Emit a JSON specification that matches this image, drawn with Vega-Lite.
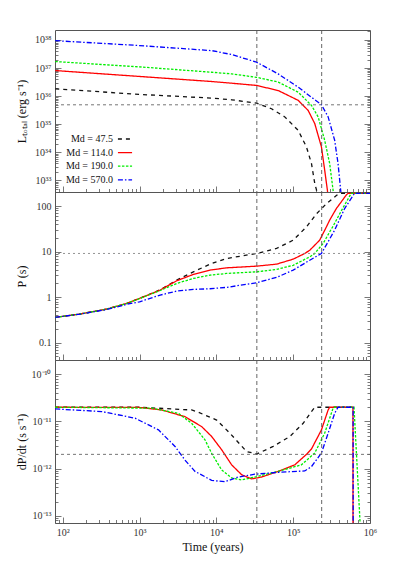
{
  "$schema": "https://vega.github.io/schema/vega-lite/v6.json",
  "padding": {"left": 14, "top": 29, "right": 5, "bottom": 5},
  "spacing": 0,
  "bounds": "flush",
  "background": "white",
  "datasets": {
    "L": [
      {"m": "47.5", "t": 80, "v": 1.82e36}, {"m": "47.5", "t": 1000, "v": 1.15e36}, {"m": "47.5", "t": 8690, "v": 8.51e35}, {"m": "47.5", "t": 15850, "v": 7.4e35}, {"m": "47.5", "t": 33340, "v": 5.62e35}, {"m": "47.5", "t": 52240, "v": 3.55e35}, {"m": "47.5", "t": 77800, "v": 1.82e35}, {"m": "47.5", "t": 116100, "v": 6.03e34}, {"m": "47.5", "t": 148900, "v": 1.55e34}, {"m": "47.5", "t": 173000, "v": 3.98e33}, {"m": "47.5", "t": 191000, "v": 7.76e32}, {"m": "47.5", "t": 201000, "v": 4.57e32}, {"m": "47.5", "t": 209000, "v": 1.6e32},
      {"m": "114.0", "t": 80, "v": 8.13e36}, {"m": "114.0", "t": 1000, "v": 5.01e36}, {"m": "114.0", "t": 8690, "v": 3.31e36}, {"m": "114.0", "t": 15850, "v": 2.88e36}, {"m": "114.0", "t": 33340, "v": 2.4e36}, {"m": "114.0", "t": 63830, "v": 1.58e36}, {"m": "114.0", "t": 116100, "v": 7.08e35}, {"m": "114.0", "t": 156700, "v": 3.09e35}, {"m": "114.0", "t": 191000, "v": 1.05e35}, {"m": "114.0", "t": 233300, "v": 1.55e34}, {"m": "114.0", "t": 257000, "v": 2.34e33}, {"m": "114.0", "t": 278600, "v": 4.57e32}, {"m": "114.0", "t": 290000, "v": 1.5e32},
      {"m": "190.0", "t": 80, "v": 1.7e37}, {"m": "190.0", "t": 1000, "v": 1.1e37}, {"m": "190.0", "t": 8690, "v": 7.08e36}, {"m": "190.0", "t": 15850, "v": 6.17e36}, {"m": "190.0", "t": 33340, "v": 4.68e36}, {"m": "190.0", "t": 63830, "v": 3.16e36}, {"m": "190.0", "t": 116100, "v": 1.38e36}, {"m": "190.0", "t": 173000, "v": 4.68e35}, {"m": "190.0", "t": 211300, "v": 1.82e35}, {"m": "190.0", "t": 257000, "v": 2.69e34}, {"m": "190.0", "t": 298500, "v": 3.98e33}, {"m": "190.0", "t": 330400, "v": 4.57e32}, {"m": "190.0", "t": 345000, "v": 1.5e32},
      {"m": "570.0", "t": 80, "v": 9.44e37}, {"m": "570.0", "t": 1000, "v": 6.31e37}, {"m": "570.0", "t": 8690, "v": 4.17e37}, {"m": "570.0", "t": 15850, "v": 3.02e37}, {"m": "570.0", "t": 33340, "v": 1.62e37}, {"m": "570.0", "t": 63830, "v": 6.17e36}, {"m": "570.0", "t": 116100, "v": 2.09e36}, {"m": "570.0", "t": 173000, "v": 9.12e35}, {"m": "570.0", "t": 233300, "v": 5.0e35}, {"m": "570.0", "t": 285100, "v": 1.82e35}, {"m": "570.0", "t": 346700, "v": 2.69e34}, {"m": "570.0", "t": 383700, "v": 3.98e33}, {"m": "570.0", "t": 415000, "v": 4.57e32}, {"m": "570.0", "t": 430000, "v": 1.5e32}
    ],
    "P": [
      {"m": "47.5", "t": 80, "v": 0.36}, {"m": "47.5", "t": 169, "v": 0.427}, {"m": "47.5", "t": 376, "v": 0.55}, {"m": "47.5", "t": 684, "v": 0.73}, {"m": "47.5", "t": 1000, "v": 0.94}, {"m": "47.5", "t": 1854, "v": 1.45}, {"m": "47.5", "t": 3048, "v": 2.37}, {"m": "47.5", "t": 5023, "v": 3.6}, {"m": "47.5", "t": 8260, "v": 5.3}, {"m": "47.5", "t": 13610, "v": 7.06}, {"m": "47.5", "t": 33340, "v": 9.08}, {"m": "47.5", "t": 60670, "v": 11.7}, {"m": "47.5", "t": 100000, "v": 17.8}, {"m": "47.5", "t": 148900, "v": 34.7}, {"m": "47.5", "t": 201000, "v": 67.6}, {"m": "47.5", "t": 270400, "v": 112}, {"m": "47.5", "t": 364800, "v": 170}, {"m": "47.5", "t": 398000, "v": 190}, {"m": "47.5", "t": 1000000, "v": 190},
      {"m": "114.0", "t": 80, "v": 0.36}, {"m": "114.0", "t": 169, "v": 0.427}, {"m": "114.0", "t": 376, "v": 0.55}, {"m": "114.0", "t": 684, "v": 0.73}, {"m": "114.0", "t": 1000, "v": 0.94}, {"m": "114.0", "t": 1854, "v": 1.43}, {"m": "114.0", "t": 3048, "v": 2.29}, {"m": "114.0", "t": 5023, "v": 3.16}, {"m": "114.0", "t": 8260, "v": 3.92}, {"m": "114.0", "t": 13610, "v": 4.4}, {"m": "114.0", "t": 33340, "v": 4.79}, {"m": "114.0", "t": 60670, "v": 5.3}, {"m": "114.0", "t": 100000, "v": 6.82}, {"m": "114.0", "t": 141600, "v": 9.1}, {"m": "114.0", "t": 164400, "v": 10.7}, {"m": "114.0", "t": 221300, "v": 17.8}, {"m": "114.0", "t": 270400, "v": 34.7}, {"m": "114.0", "t": 298500, "v": 49}, {"m": "114.0", "t": 364800, "v": 88}, {"m": "114.0", "t": 492000, "v": 175}, {"m": "114.0", "t": 517600, "v": 190}, {"m": "114.0", "t": 1000000, "v": 190},
      {"m": "190.0", "t": 80, "v": 0.36}, {"m": "190.0", "t": 169, "v": 0.427}, {"m": "190.0", "t": 376, "v": 0.55}, {"m": "190.0", "t": 684, "v": 0.73}, {"m": "190.0", "t": 1000, "v": 0.93}, {"m": "190.0", "t": 1854, "v": 1.4}, {"m": "190.0", "t": 3048, "v": 2.0}, {"m": "190.0", "t": 5023, "v": 2.57}, {"m": "190.0", "t": 8260, "v": 3.04}, {"m": "190.0", "t": 13610, "v": 3.31}, {"m": "190.0", "t": 33340, "v": 3.6}, {"m": "190.0", "t": 60670, "v": 4.06}, {"m": "190.0", "t": 100000, "v": 5.01}, {"m": "190.0", "t": 164400, "v": 7.66}, {"m": "190.0", "t": 191000, "v": 9.1}, {"m": "190.0", "t": 245500, "v": 15.1}, {"m": "190.0", "t": 298500, "v": 27}, {"m": "190.0", "t": 330400, "v": 36}, {"m": "190.0", "t": 426600, "v": 80.5}, {"m": "190.0", "t": 543300, "v": 165}, {"m": "190.0", "t": 570000, "v": 190}, {"m": "190.0", "t": 1000000, "v": 190},
      {"m": "570.0", "t": 80, "v": 0.36}, {"m": "570.0", "t": 169, "v": 0.425}, {"m": "570.0", "t": 376, "v": 0.535}, {"m": "570.0", "t": 684, "v": 0.697}, {"m": "570.0", "t": 1000, "v": 0.79}, {"m": "570.0", "t": 1854, "v": 1.11}, {"m": "570.0", "t": 3048, "v": 1.36}, {"m": "570.0", "t": 5023, "v": 1.48}, {"m": "570.0", "t": 8260, "v": 1.53}, {"m": "570.0", "t": 13610, "v": 1.64}, {"m": "570.0", "t": 33340, "v": 2.07}, {"m": "570.0", "t": 60670, "v": 2.71}, {"m": "570.0", "t": 100000, "v": 3.92}, {"m": "570.0", "t": 164400, "v": 6.46}, {"m": "570.0", "t": 233300, "v": 9.1}, {"m": "570.0", "t": 346700, "v": 29.5}, {"m": "570.0", "t": 467700, "v": 88}, {"m": "570.0", "t": 602600, "v": 170}, {"m": "570.0", "t": 631000, "v": 190}, {"m": "570.0", "t": 1000000, "v": 190}
    ],
    "D": [
      {"m": "47.5", "t": 80, "v": 2.0e-11}, {"m": "47.5", "t": 1000, "v": 2.0e-11}, {"m": "47.5", "t": 4775, "v": 1.75e-11}, {"m": "47.5", "t": 5546, "v": 1.62e-11}, {"m": "47.5", "t": 10090, "v": 1.07e-11}, {"m": "47.5", "t": 15030, "v": 5.62e-12}, {"m": "47.5", "t": 24770, "v": 2.29e-12}, {"m": "47.5", "t": 33650, "v": 2.04e-12}, {"m": "47.5", "t": 54950, "v": 2.95e-12}, {"m": "47.5", "t": 90360, "v": 4.79e-12}, {"m": "47.5", "t": 134900, "v": 9.12e-12}, {"m": "47.5", "t": 173000, "v": 1.62e-11}, {"m": "47.5", "t": 191000, "v": 2.0e-11}, {"m": "47.5", "t": 590000, "v": 2.0e-11},
      {"m": "114.0", "t": 80, "v": 2.0e-11}, {"m": "114.0", "t": 1000, "v": 1.98e-11}, {"m": "114.0", "t": 1950, "v": 1.75e-11}, {"m": "114.0", "t": 3908, "v": 1.26e-11}, {"m": "114.0", "t": 6442, "v": 7.76e-12}, {"m": "114.0", "t": 8690, "v": 4.79e-12}, {"m": "114.0", "t": 11720, "v": 2.51e-12}, {"m": "114.0", "t": 15810, "v": 1.2e-12}, {"m": "114.0", "t": 21330, "v": 7.41e-13}, {"m": "114.0", "t": 28710, "v": 6.03e-13}, {"m": "114.0", "t": 38730, "v": 6.61e-13}, {"m": "114.0", "t": 63830, "v": 8.71e-13}, {"m": "114.0", "t": 105000, "v": 1.2e-12}, {"m": "114.0", "t": 148900, "v": 2.0e-12}, {"m": "114.0", "t": 173000, "v": 2.6e-12}, {"m": "114.0", "t": 233300, "v": 6.61e-12}, {"m": "114.0", "t": 285100, "v": 1.75e-11}, {"m": "114.0", "t": 298500, "v": 2.0e-11}, {"m": "114.0", "t": 600000, "v": 2.0e-11}, {"m": "114.0", "t": 601000, "v": 1.0e-14},
      {"m": "190.0", "t": 80, "v": 2.0e-11}, {"m": "190.0", "t": 1445, "v": 1.91e-11}, {"m": "190.0", "t": 3206, "v": 1.48e-11}, {"m": "190.0", "t": 4775, "v": 9.12e-12}, {"m": "190.0", "t": 7112, "v": 4.07e-12}, {"m": "190.0", "t": 8690, "v": 2.1e-12}, {"m": "190.0", "t": 11720, "v": 9.33e-13}, {"m": "190.0", "t": 15810, "v": 6.31e-13}, {"m": "190.0", "t": 21330, "v": 5.75e-13}, {"m": "190.0", "t": 31700, "v": 6.61e-13}, {"m": "190.0", "t": 63830, "v": 8.71e-13}, {"m": "190.0", "t": 128200, "v": 1.2e-12}, {"m": "190.0", "t": 191000, "v": 2.14e-12}, {"m": "190.0", "t": 257000, "v": 5.62e-12}, {"m": "190.0", "t": 330400, "v": 1.91e-11}, {"m": "190.0", "t": 346700, "v": 2.0e-11}, {"m": "190.0", "t": 619400, "v": 2.0e-11}, {"m": "190.0", "t": 745000, "v": 6.5e-14},
      {"m": "570.0", "t": 80, "v": 1.84e-11}, {"m": "570.0", "t": 324, "v": 1.62e-11}, {"m": "570.0", "t": 877, "v": 1.17e-11}, {"m": "570.0", "t": 1766, "v": 6.61e-12}, {"m": "570.0", "t": 2897, "v": 2.95e-12}, {"m": "570.0", "t": 3908, "v": 1.51e-12}, {"m": "570.0", "t": 5272, "v": 8.71e-13}, {"m": "570.0", "t": 8690, "v": 5.62e-13}, {"m": "570.0", "t": 12940, "v": 5.25e-13}, {"m": "570.0", "t": 19320, "v": 6.61e-13}, {"m": "570.0", "t": 31700, "v": 7.59e-13}, {"m": "570.0", "t": 63830, "v": 8.32e-13}, {"m": "570.0", "t": 141600, "v": 8.91e-13}, {"m": "570.0", "t": 173000, "v": 1.1e-12}, {"m": "570.0", "t": 233300, "v": 2.14e-12}, {"m": "570.0", "t": 285100, "v": 5.62e-12}, {"m": "570.0", "t": 346700, "v": 1.48e-11}, {"m": "570.0", "t": 383700, "v": 2.0e-11}, {"m": "570.0", "t": 603000, "v": 2.0e-11}, {"m": "570.0", "t": 604500, "v": 1.0e-14}
    ],
    "VT": [{"t": 33650}, {"t": 235000}]
  },
  "resolve": {"scale": {"x": "independent", "y": "independent", "color": "independent", "strokeDash": "independent"}},
  "vconcat": [
    {
      "width": 315, "height": 162,
      "resolve": {"scale": {"y": "independent"}},
      "layer": [
        {
          "data": {"name": "L"},
          "mark": {"type": "line", "clip": true, "strokeWidth": 1.3},
          "encoding": {
            "x": {"field": "t", "type": "quantitative", "scale": {"type": "log", "domain": [79.4, 1000000], "nice": false},
              "axis": {"values": [80,90,100,200,300,400,500,600,700,800,900,1000,2000,3000,4000,5000,6000,7000,8000,9000,10000,20000,30000,40000,50000,60000,70000,80000,90000,100000,200000,300000,400000,500000,600000,700000,800000,900000,1000000], "labels": false, "title": null, "tickSize": {"condition": {"test": "abs(log(datum.value)/LN10 - round(log(datum.value)/LN10)) < 0.001", "value": -6}, "value": -3.5}}},
            "y": {"field": "v", "type": "quantitative", "scale": {"type": "log", "domain": [3.85e32, 2.26e38], "nice": false},
              "axis": {"values": [4e32,5e32,6e32,7e32,8e32,9e32,1e33,2e33,3e33,4e33,5e33,6e33,7e33,8e33,9e33,1e34,2e34,3e34,4e34,5e34,6e34,7e34,8e34,9e34,1e35,2e35,3e35,4e35,5e35,6e35,7e35,8e35,9e35,1e36,2e36,3e36,4e36,5e36,6e36,7e36,8e36,9e36,1e37,2e37,3e37,4e37,5e37,6e37,7e37,8e37,9e37,1e38],
                "labelExpr": "datum.value==1e33?'10³³':datum.value==1e34?'10³⁴':datum.value==1e35?'10³⁵':datum.value==1e36?'10³⁶':datum.value==1e37?'10³⁷':datum.value==1e38?'10³⁸':''",
                "title": "Lₜₒₜₐₗ (erg s⁻¹)", "titleX": -34, "titleBaseline": "middle", "labelPadding": 10,
                "tickSize": {"condition": {"test": "abs(log(datum.value)/LN10 - round(log(datum.value)/LN10)) < 0.001", "value": -6}, "value": -3}}},
            "color": {"field": "m", "type": "nominal", "scale": {"domain": ["47.5", "114.0", "190.0", "570.0"], "range": ["#111111", "#ff0000", "#00ee00", "#0000ff"]},
              "legend": {"orient": "none", "legendX": 62, "legendY": 101, "title": null, "symbolType": "stroke", "symbolSize": 200, "symbolStrokeWidth": 1.3, "labelAlign": "right", "labelOffset": -20, "labelExpr": "'Md = ' + datum.label", "labelFontSize": 10, "labelColor": "#111", "rowPadding": 0.6, "padding": 0}},
            "strokeDash": {"field": "m", "type": "nominal", "scale": {"domain": ["47.5", "114.0", "190.0", "570.0"], "range": [[4, 4], [1, 0], [2.5, 1.5], [5, 2, 1.5, 2]]},
              "legend": {"orient": "none", "legendX": 62, "legendY": 101, "title": null, "symbolType": "stroke", "symbolSize": 200, "symbolStrokeWidth": 1.3, "labelAlign": "right", "labelOffset": -20, "labelExpr": "'Md = ' + datum.label", "labelFontSize": 10, "labelColor": "#111", "rowPadding": 0.6, "padding": 0}}
          }
        },
        {
          "data": {"name": "VT"},
          "mark": {"type": "rule", "color": "#555", "strokeDash": [4, 3], "strokeWidth": 0.9},
          "encoding": {"x": {"field": "t", "type": "quantitative", "scale": {"type": "log", "domain": [79.4, 1000000], "nice": false}}}
        },
        {
          "data": {"values": [{"v": 4.9e35}]},
          "mark": {"type": "rule", "color": "#666", "strokeDash": [3, 3], "strokeWidth": 0.9},
          "encoding": {"y": {"field": "v", "type": "quantitative", "scale": {"type": "log", "domain": [3.85e32, 2.26e38], "nice": false},
            "axis": {"orient": "right", "labels": false, "title": null, "values": [4e32,5e32,6e32,7e32,8e32,9e32,1e33,2e33,3e33,4e33,5e33,6e33,7e33,8e33,9e33,1e34,2e34,3e34,4e34,5e34,6e34,7e34,8e34,9e34,1e35,2e35,3e35,4e35,5e35,6e35,7e35,8e35,9e35,1e36,2e36,3e36,4e36,5e36,6e36,7e36,8e36,9e36,1e37,2e37,3e37,4e37,5e37,6e37,7e37,8e37,9e37,1e38,2e38],
              "tickSize": {"condition": {"test": "abs(log(datum.value)/LN10 - round(log(datum.value)/LN10)) < 0.001", "value": -6}, "value": -3}}}}
        }
      ]
    },
    {
      "width": 315, "height": 168,
      "resolve": {"scale": {"y": "independent"}},
      "layer": [
        {
          "data": {"name": "P"},
          "mark": {"type": "line", "clip": true, "strokeWidth": 1.3},
          "encoding": {
            "x": {"field": "t", "type": "quantitative", "scale": {"type": "log", "domain": [79.4, 1000000], "nice": false},
              "axis": {"values": [80,90,100,200,300,400,500,600,700,800,900,1000,2000,3000,4000,5000,6000,7000,8000,9000,10000,20000,30000,40000,50000,60000,70000,80000,90000,100000,200000,300000,400000,500000,600000,700000,800000,900000,1000000], "labels": false, "title": null, "tickSize": {"condition": {"test": "abs(log(datum.value)/LN10 - round(log(datum.value)/LN10)) < 0.001", "value": -6}, "value": -3.5}}},
            "y": {"field": "v", "type": "quantitative", "scale": {"type": "log", "domain": [0.0418, 203], "nice": false},
              "axis": {"values": [0.05,0.06,0.07,0.08,0.09,0.1,0.2,0.3,0.4,0.5,0.6,0.7,0.8,0.9,1,2,3,4,5,6,7,8,9,10,20,30,40,50,60,70,80,90,100,200],
                "labelExpr": "datum.value==0.1?'0.1':datum.value==1?'1':datum.value==10?'10':datum.value==100?'100':''",
                "title": "P (s)", "titleX": -34, "titleBaseline": "middle", "labelPadding": 10,
                "tickSize": {"condition": {"test": "abs(log(datum.value)/LN10 - round(log(datum.value)/LN10)) < 0.001", "value": -6}, "value": -3}}},
            "color": {"field": "m", "type": "nominal", "scale": {"domain": ["47.5", "114.0", "190.0", "570.0"], "range": ["#111111", "#ff0000", "#00ee00", "#0000ff"]}, "legend": null},
            "strokeDash": {"field": "m", "type": "nominal", "scale": {"domain": ["47.5", "114.0", "190.0", "570.0"], "range": [[4, 4], [1, 0], [2.5, 1.5], [5, 2, 1.5, 2]]}, "legend": null}
          }
        },
        {
          "data": {"name": "VT"},
          "mark": {"type": "rule", "color": "#555", "strokeDash": [4, 3], "strokeWidth": 0.9},
          "encoding": {"x": {"field": "t", "type": "quantitative", "scale": {"type": "log", "domain": [79.4, 1000000], "nice": false}}}
        },
        {
          "data": {"values": [{"v": 9.1}]},
          "mark": {"type": "rule", "color": "#888", "strokeDash": [2, 3], "strokeWidth": 0.9},
          "encoding": {"y": {"field": "v", "type": "quantitative", "scale": {"type": "log", "domain": [0.0418, 203], "nice": false},
            "axis": {"orient": "right", "labels": false, "title": null, "values": [0.05,0.06,0.07,0.08,0.09,0.1,0.2,0.3,0.4,0.5,0.6,0.7,0.8,0.9,1,2,3,4,5,6,7,8,9,10,20,30,40,50,60,70,80,90,100,200],
              "tickSize": {"condition": {"test": "abs(log(datum.value)/LN10 - round(log(datum.value)/LN10)) < 0.001", "value": -6}, "value": -3}}}}
        }
      ]
    },
    {
      "width": 315, "height": 163,
      "resolve": {"scale": {"y": "independent"}},
      "layer": [
        {
          "data": {"name": "D"},
          "mark": {"type": "line", "clip": true, "strokeWidth": 1.3},
          "encoding": {
            "x": {"field": "t", "type": "quantitative", "scale": {"type": "log", "domain": [79.4, 1000000], "nice": false},
              "axis": {"values": [80,90,100,200,300,400,500,600,700,800,900,1000,2000,3000,4000,5000,6000,7000,8000,9000,10000,20000,30000,40000,50000,60000,70000,80000,90000,100000,200000,300000,400000,500000,600000,700000,800000,900000,1000000],
                "labelExpr": "datum.value==100?'10²':datum.value==1000?'10³':datum.value==10000?'10⁴':datum.value==100000?'10⁵':datum.value==1000000?'10⁶':''",
                "labelFlush": false, "labelOverlap": false, "labelPadding": 10, "title": "Time (years)", "titlePadding": 2,
                "tickSize": {"condition": {"test": "abs(log(datum.value)/LN10 - round(log(datum.value)/LN10)) < 0.001", "value": -6}, "value": -3.5}}},
            "y": {"field": "v", "type": "quantitative", "scale": {"type": "log", "domain": [7.0e-14, 2.01e-10], "nice": false},
              "axis": {"values": [8e-14,9e-14,1e-13,2e-13,3e-13,4e-13,5e-13,6e-13,7e-13,8e-13,9e-13,1e-12,2e-12,3e-12,4e-12,5e-12,6e-12,7e-12,8e-12,9e-12,1e-11,2e-11,3e-11,4e-11,5e-11,6e-11,7e-11,8e-11,9e-11,1e-10],
                "labelExpr": "datum.value==1e-10?'10⁻¹⁰':datum.value==1e-11?'10⁻¹¹':datum.value==1e-12?'10⁻¹²':datum.value==1e-13?'10⁻¹³':''",
                "title": "dP/dt (s s⁻¹)", "titleX": -34, "titleBaseline": "middle", "labelPadding": 10,
                "tickSize": {"condition": {"test": "abs(log(datum.value)/LN10 - round(log(datum.value)/LN10)) < 0.001", "value": -6}, "value": -3}}},
            "color": {"field": "m", "type": "nominal", "scale": {"domain": ["47.5", "114.0", "190.0", "570.0"], "range": ["#111111", "#ff0000", "#00ee00", "#0000ff"]}, "legend": null},
            "strokeDash": {"field": "m", "type": "nominal", "scale": {"domain": ["47.5", "114.0", "190.0", "570.0"], "range": [[4, 4], [1, 0], [2.5, 1.5], [5, 2, 1.5, 2]]}, "legend": null}
          }
        },
        {
          "data": {"name": "VT"},
          "mark": {"type": "rule", "color": "#555", "strokeDash": [4, 3], "strokeWidth": 0.9},
          "encoding": {"x": {"field": "t", "type": "quantitative", "scale": {"type": "log", "domain": [79.4, 1000000], "nice": false}}}
        },
        {
          "data": {"values": [{"v": 2.0e-12}]},
          "mark": {"type": "rule", "color": "#666", "strokeDash": [3, 3], "strokeWidth": 0.9},
          "encoding": {"y": {"field": "v", "type": "quantitative", "scale": {"type": "log", "domain": [7.0e-14, 2.01e-10], "nice": false},
            "axis": {"orient": "right", "labels": false, "title": null, "values": [8e-14,9e-14,1e-13,2e-13,3e-13,4e-13,5e-13,6e-13,7e-13,8e-13,9e-13,1e-12,2e-12,3e-12,4e-12,5e-12,6e-12,7e-12,8e-12,9e-12,1e-11,2e-11,3e-11,4e-11,5e-11,6e-11,7e-11,8e-11,9e-11,1e-10],
              "tickSize": {"condition": {"test": "abs(log(datum.value)/LN10 - round(log(datum.value)/LN10)) < 0.001", "value": -6}, "value": -3}}}}
        }
      ]
    }
  ],
  "config": {
    "font": "Liberation Serif",
    "view": {"stroke": "#555", "strokeWidth": 1},
    "axis": {"domain": false, "grid": false, "tickColor": "#555", "tickWidth": 0.8, "labelFont": "Liberation Serif", "titleFont": "Liberation Serif", "labelFontSize": 10, "titleFontSize": 12, "titleFontWeight": "normal", "labelColor": "#333", "titleColor": "#111", "labelOverlap": false},
    "legend": {"labelFont": "Liberation Serif"}
  }
}
